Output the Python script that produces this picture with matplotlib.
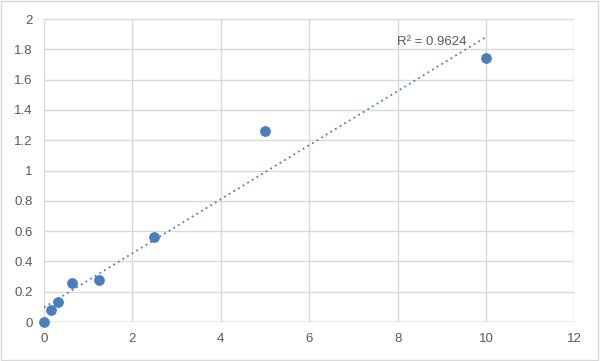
import numpy as np
import matplotlib
matplotlib.use('Agg')
import matplotlib.pyplot as plt
from matplotlib.patches import Rectangle

# Концентрации и оптическая плотность
conc = [0, 0.156, 0.3125, 0.625, 1.25, 2.5, 5, 10]
od = [0, 0.08, 0.13, 0.26, 0.28, 0.56, 1.26, 1.745]
r2_label = "R² = 0.9624"

xticks = [0, 2, 4, 6, 8, 10, 12]
yticks = [0, 0.2, 0.4, 0.6, 0.8, 1, 1.2, 1.4, 1.6, 1.8, 2]

plt.rcParams['font.family'] = ['Liberation Sans', 'DejaVu Sans']

fig = plt.figure(figsize=(6, 3.61), dpi=100)
ax = fig.add_axes([0.0733, 0.108, 0.884, 0.839])

# Линейная линия тренда
k, b = np.polyfit(conc, od, 1)
xl = np.array([min(conc), max(conc)])
ax.plot(xl, k * xl + b, color='#4a7ebb', linestyle=(0, (1, 2)), linewidth=1.3, zorder=2)

ax.scatter(conc, od, s=45, color='#4a7ebb', zorder=3, clip_on=False)
ax.text(7.98, 1.85, r2_label, fontsize=9.5, color='#595959', va='center', ha='left', zorder=4)

ax.set_xlim(0, 12)
ax.set_ylim(0, 2)
ax.set_xticks(xticks)
ax.set_yticks(yticks)
ax.set_xticklabels([str(t) for t in xticks])
ax.set_yticklabels(['0', '0.2', '0.4', '0.6', '0.8', '1', '1.2', '1.4', '1.6', '1.8', '2'])
ax.grid(True, color='#d9d9d9', linewidth=1)
ax.set_axisbelow(True)
for s in ax.spines.values():
    s.set_visible(False)
ax.tick_params(length=0, labelsize=9.5, labelcolor='#595959', pad=8)
ax.axhline(0, color='#bfbfbf', linewidth=1, zorder=1)

fig.patches.append(Rectangle((0.002, 0.003), 0.995, 0.993, transform=fig.transFigure,
                             fill=False, edgecolor='#d9d9d9', linewidth=1))

plt.savefig('out.png')
